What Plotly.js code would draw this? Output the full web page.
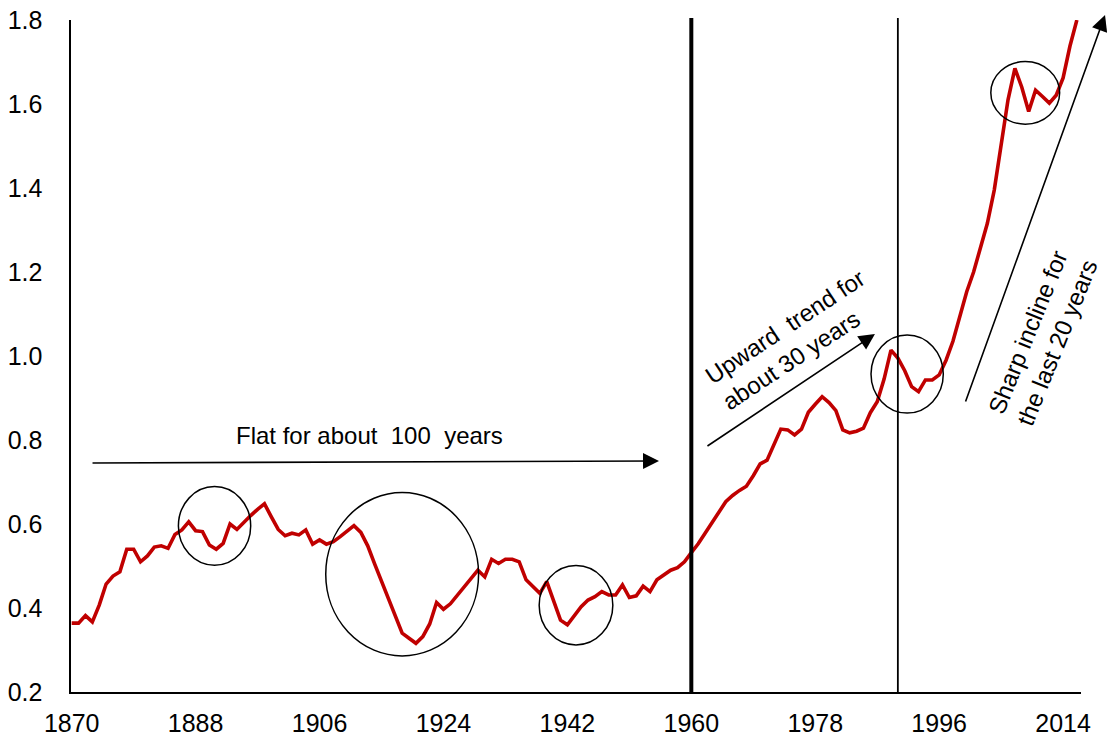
<!DOCTYPE html>
<html>
<head>
<meta charset="utf-8">
<script src="https://cdn.plot.ly/plotly-3.0.1.min.js"></script>
<style>
  html, body { margin: 0; padding: 0; background: #ffffff; }
  #chart { width: 1107px; height: 738px; }
</style>
</head>
<body>
<div id="chart"></div>
<script>
// Annual index, 1870-2016
const startYear = 1870;
const indexValues = [
  0.364, 0.364, 0.382, 0.367, 0.407, 0.457, 0.476, 0.486, 0.540, 0.540, // 1870-1879
  0.510, 0.524, 0.545, 0.548, 0.542, 0.575, 0.586, 0.605, 0.584, 0.582, // 1880-1889
  0.550, 0.540, 0.554, 0.600, 0.587, 0.605, 0.620, 0.635, 0.648, 0.617, // 1890-1899
  0.587, 0.572, 0.578, 0.574, 0.586, 0.552, 0.562, 0.552, 0.558, 0.570, // 1900-1909
  0.584, 0.596, 0.580, 0.548, 0.505, 0.463, 0.420, 0.383, 0.340, 0.328, // 1910-1919
  0.316, 0.332, 0.362, 0.413, 0.397, 0.410, 0.430, 0.450, 0.470, 0.490, // 1920-1929
  0.474, 0.516, 0.506, 0.516, 0.516, 0.510, 0.467, 0.451, 0.435, 0.463, // 1930-1939
  0.420, 0.371, 0.360, 0.383, 0.403, 0.419, 0.427, 0.439, 0.431, 0.431, // 1940-1949
  0.455, 0.425, 0.429, 0.452, 0.439, 0.467, 0.479, 0.490, 0.496, 0.510, // 1950-1959
  0.532, 0.553, 0.578, 0.605, 0.628, 0.653, 0.668, 0.680, 0.690, 0.715, // 1960-1969
  0.743, 0.752, 0.787, 0.826, 0.824, 0.812, 0.826, 0.866, 0.885, 0.903, // 1970-1979
  0.889, 0.870, 0.824, 0.817, 0.821, 0.828, 0.865, 0.891, 0.945, 1.014, // 1980-1989
  0.995, 0.965, 0.927, 0.915, 0.943, 0.943, 0.955, 0.990, 1.035, 1.098, // 1990-1999
  1.153, 1.200, 1.256, 1.316, 1.395, 1.505, 1.610, 1.685, 1.640, 1.582, // 2000-2009
  1.633, 1.618, 1.602, 1.621, 1.662, 1.738, 1.800                       // 2010-2016
];
const years = indexValues.map((_, i) => startYear + i);

// Axis ticks
const xTickYears = [1870, 1888, 1906, 1924, 1942, 1960, 1978, 1996, 2014];
const yTickValues = [0.2, 0.4, 0.6, 0.8, 1.0, 1.2, 1.4, 1.6, 1.8];

// Period boundaries
const boundaryYears = [1960, 1990];

// Highlighted episodes: [start year, end year, low value, high value]
const episodes = [
  [1885.5, 1896.0, 0.502, 0.689],
  [1906.9, 1929.1, 0.286, 0.675],
  [1937.9, 1948.6, 0.312, 0.501],
  [1986.1, 1996.6, 0.864, 1.050],
  [2003.5, 2013.5, 1.552, 1.701]
];

const FONT = '"Liberation Sans", Arial, "Helvetica Neue", sans-serif';

const trace = {
  type: 'scatter',
  mode: 'lines',
  x: years,
  y: indexValues,
  line: { color: '#C00000', width: 3.6 },
  hoverinfo: 'x+y'
};

const shapes = [];
boundaryYears.forEach((yr, i) => {
  shapes.push({
    type: 'line', xref: 'x', yref: 'paper',
    x0: yr, x1: yr, y0: 0, y1: 1.003,
    line: { color: '#000000', width: i === 0 ? 4 : 1.8 }
  });
});
episodes.forEach(e => {
  shapes.push({
    type: 'circle', xref: 'x', yref: 'y',
    x0: e[0], x1: e[1], y0: e[2], y1: e[3],
    line: { color: '#000000', width: 1.5 }
  });
});

const textFont = { family: FONT, size: 24, color: '#000000' };

const annotations = [
  // Flat period
  { xref: 'paper', yref: 'paper', x: 0.5822, y: 0.3438, ax: -568, ay: 2,
    text: '', showarrow: true, arrowhead: 2, arrowsize: 2, arrowwidth: 1.6,
    arrowcolor: '#000000', standoff: 0 },
  { xref: 'paper', yref: 'paper', x: 0.2957, y: 0.382, xanchor: 'center', yanchor: 'middle',
    text: 'Flat for about\u00a0 100\u00a0 years', showarrow: false, font: textFont },
  // Upward trend
  { xref: 'paper', yref: 'paper', x: 0.796, y: 0.5327, ax: -169, ay: 113,
    text: '', showarrow: true, arrowhead: 2, arrowsize: 2, arrowwidth: 1.6,
    arrowcolor: '#000000', standoff: 0 },
  { xref: 'paper', yref: 'paper', x: 0.7149, y: 0.5238, xanchor: 'center', yanchor: 'middle',
    text: 'Upward\u00a0 trend for<br>about 30 years', align: 'left', textangle: -33.5,
    showarrow: false, font: textFont },
  // Sharp incline
  { xref: 'paper', yref: 'paper', x: 1.0238, y: 1.0074, ax: -140, ay: 388,
    text: '', showarrow: true, arrowhead: 2, arrowsize: 2, arrowwidth: 1.6,
    arrowcolor: '#000000', standoff: 0 },
  { xref: 'paper', yref: 'paper', x: 0.962, y: 0.528, xanchor: 'center', yanchor: 'middle',
    text: 'Sharp incline for<br>the last 20 years', align: 'left', textangle: -68,
    showarrow: false, font: textFont }
];

const layout = {
  width: 1107,
  height: 738,
  margin: { l: 71, r: 26, t: 20, b: 46, pad: 0 },
  paper_bgcolor: '#ffffff',
  plot_bgcolor: '#ffffff',
  showlegend: false,
  font: { family: FONT, size: 24, color: '#000000' },
  xaxis: {
    range: [1869.9, 2016.6],
    tickmode: 'array',
    tickvals: xTickYears,
    ticktext: xTickYears.map(String),
    ticks: '',
    showgrid: false,
    zeroline: false,
    showline: true,
    linecolor: '#000000',
    linewidth: 1.6,
    ticklabelstandoff: 8,
    tickfont: { family: FONT, size: 25, color: '#000000' }
  },
  yaxis: {
    range: [0.2, 1.8],
    tickmode: 'array',
    tickvals: yTickValues,
    ticktext: yTickValues.map(v => v.toFixed(1)),
    ticks: '',
    showgrid: false,
    zeroline: false,
    showline: true,
    linecolor: '#000000',
    linewidth: 1.6,
    ticklabelstandoff: 22,
    tickfont: { family: FONT, size: 25, color: '#000000' }
  },
  shapes: shapes,
  annotations: annotations
};

Plotly.newPlot('chart', [trace], layout, { displayModeBar: false, staticPlot: true });
</script>
</body>
</html>
